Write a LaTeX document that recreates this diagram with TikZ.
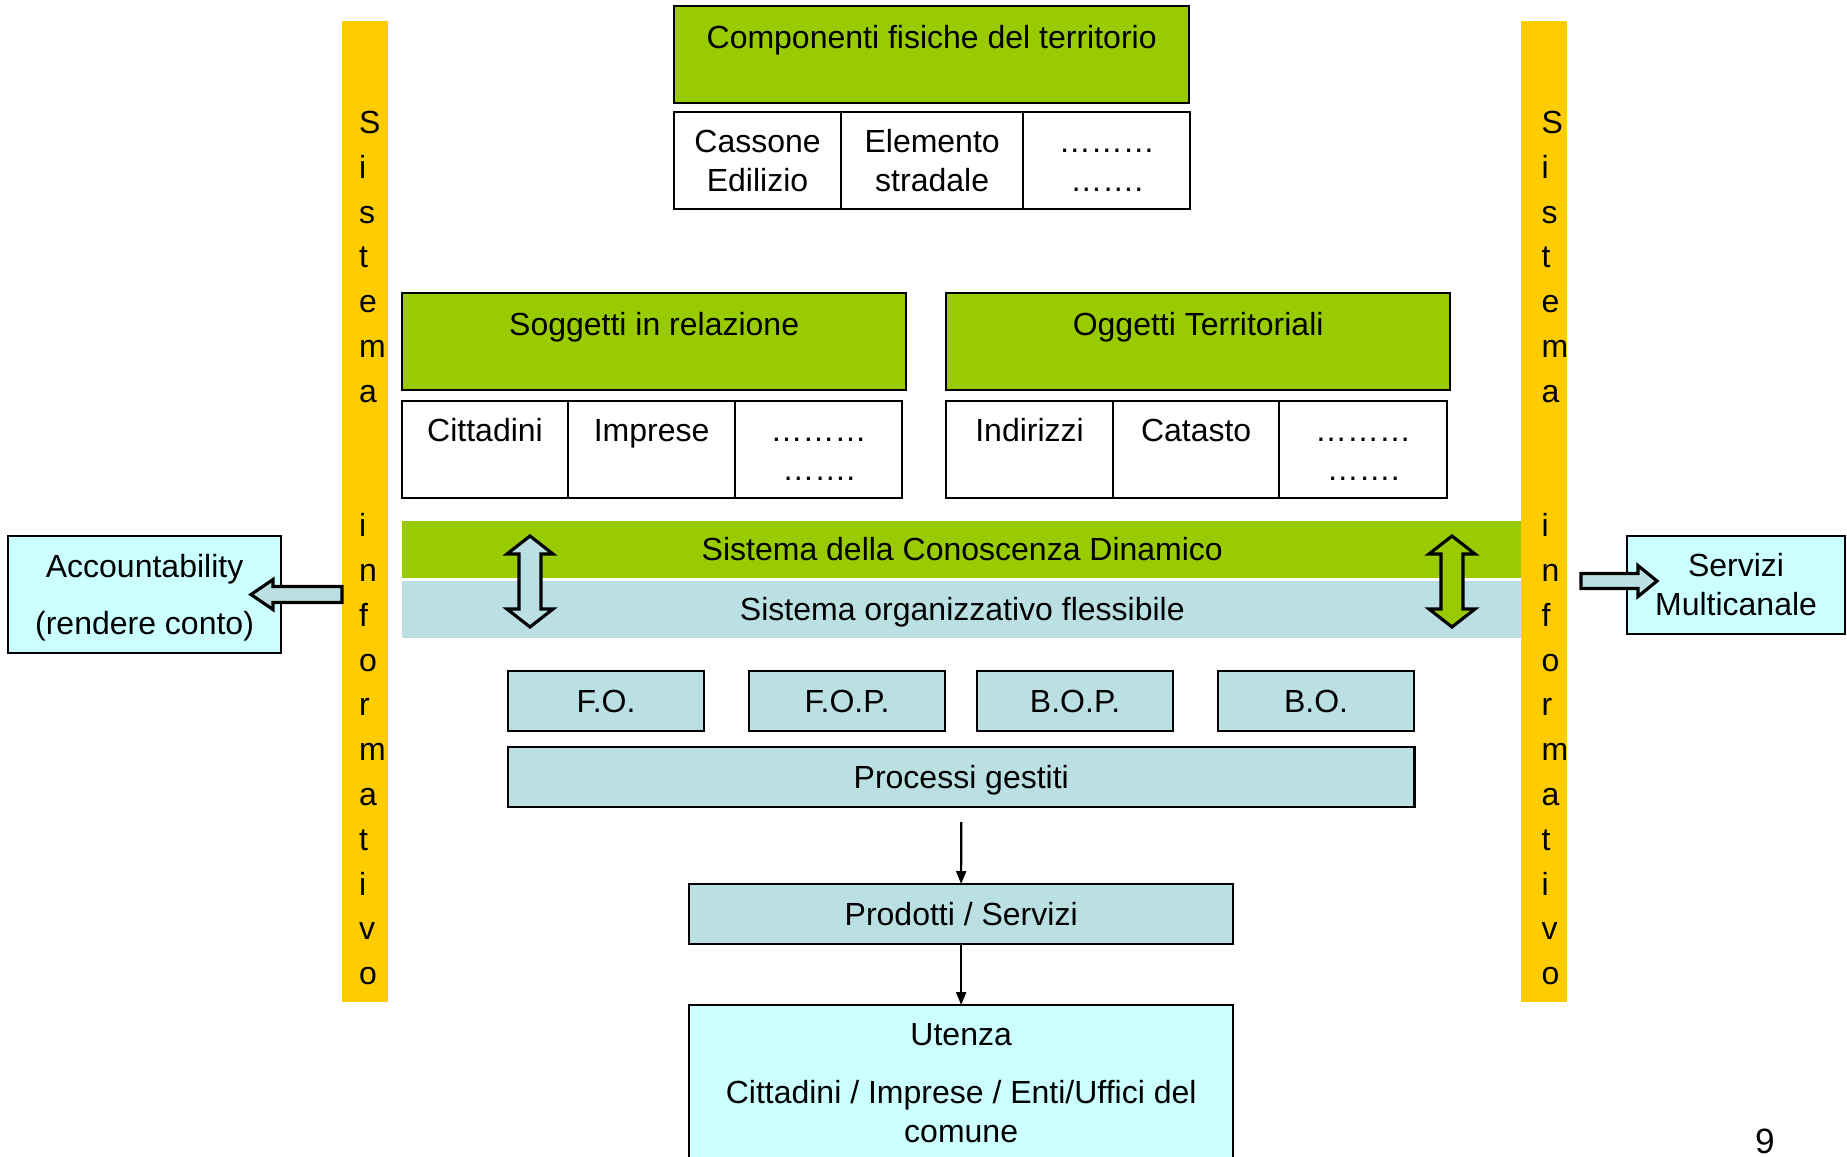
\documentclass[tikz,border=0pt]{standalone}
\usepackage{fontspec}
\setmainfont{Liberation Sans}
\usetikzlibrary{arrows.meta, positioning, calc}
\definecolor{colGreen}{RGB}{153,204,0}
\definecolor{colYellow}{RGB}{255,204,0}
\definecolor{colBlue}{RGB}{187,224,227}
\definecolor{colCyan}{RGB}{204,255,255}

\begin{document}
\begin{tikzpicture}[
  x=0.01cm, y=-0.01cm,
  font=\fontsize{9.1}{11.1}\selectfont,
  every node/.style={inner sep=0pt, outer sep=0pt},
  line/.style={text height=0.228cm, text depth=0pt},
  head/.style={rectangle, draw, line width=0.6pt, fill=colGreen, anchor=north west,
               minimum height=0.97cm, text height=0.233cm, text depth=0.353cm},
  cell/.style={rectangle, draw, line width=0.6pt, fill=white, anchor=north west,
               minimum width=1.67cm, minimum height=0.97cm, align=center},
  band/.style={rectangle, line, anchor=north west, minimum width=11.2cm, minimum height=0.57cm},
  bar/.style={rectangle, fill=colYellow, anchor=north west, minimum width=0.46cm, minimum height=9.8cm},
  proc/.style={rectangle, line, draw, line width=0.6pt, fill=colBlue, anchor=north west,
               minimum width=1.96cm, minimum height=0.6cm},
  side/.style={rectangle, draw, line width=0.6pt, fill=colCyan, anchor=north west, align=center},
  blk/.style={draw, line width=0.9pt, line join=miter},
  arr/.style={-{Triangle[length=0.13cm, width=0.1cm]}, line width=0.6pt},
]
\useasboundingbox (0,0) rectangle (1847,1157);
\clip (0,0) rectangle (1847,1157);

% physical components
\node[head, minimum width=5.15cm] (comp) at (674,6) {Componenti fisiche del territorio};
\node[cell] (cass) at (674,112) {Cassone\\Edilizio};
\node[cell, minimum width=1.82cm, right=0pt of cass] (elem) {Elemento\\stradale};
\node[cell, right=0pt of elem] (dotsA) {\vphantom{C}………\\…….};

% subjects and objects
\node[head, minimum width=5.04cm] (sogg) at (402,293) {Soggetti in relazione};
\node[head, minimum width=5.04cm] (ogg) at (946,293) {Oggetti Territoriali};
\node[cell, minimum width=1.66cm] (citt) at (402,401) {Cittadini\\\mbox{}};
\node[cell, right=0pt of citt] (impr) {Imprese\\\mbox{}};
\node[cell, right=0pt of impr] (dotsB) {\vphantom{C}………\\…….};
\node[cell] (indir) at (946,401) {Indirizzi\\\mbox{}};
\node[cell, minimum width=1.66cm, right=0pt of indir] (catas) {Catasto\\\mbox{}};
\node[cell, minimum width=1.68cm, right=0pt of catas] (dotsC) {\vphantom{C}………\\…….};

% bands
\node[band, fill=colGreen] (scd) at (402,521) {Sistema della Conoscenza Dinamico};
\node[band, fill=colBlue] (sof) at (402,581) {Sistema organizzativo flessibile};

% information system bars
\node[bar] (barL) at (342,21) {};
\node[bar] (barR) at (1521,21) {};
\foreach \ch/\k in {S/0,i/1,s/2,t/3,e/4,m/5,a/6,i/9,n/10,f/11,o/12,r/13,m/14,a/15,t/16,i/17,v/18,o/19}{
  \node[anchor=base west] (sL\k) at (359,133.5+44.8*\k) {\ch};
  \node[anchor=base west] (sR\k) at (1541.5,133.5+44.8*\k) {\ch};
}

% double arrows between the bands
\coordinate (dL) at (530,581.5);
\coordinate (dR) at (1452,581.5);
\draw[blk, fill=colBlue] (dL) ++(0,-45.5) -- ++(23,18) -- ++(-12,0) -- ++(0,55) -- ++(12,0)
  -- ++(-23,18) -- ++(-23,-18) -- ++(12,0) -- ++(0,-55) -- ++(-12,0) -- cycle;
\draw[blk, fill=colGreen] (dR) ++(0,-45.5) -- ++(23,18) -- ++(-12,0) -- ++(0,55) -- ++(12,0)
  -- ++(-23,18) -- ++(-23,-18) -- ++(12,0) -- ++(0,-55) -- ++(-12,0) -- cycle;

% front / back office
\node[proc] (fo) at (508,671) {F.O.};
\node[proc] (fop) at (749,671) {F.O.P.};
\node[proc] (bop) at (977,671) {B.O.P.};
\node[proc] (bo) at (1218,671) {B.O.};
\node[proc, minimum width=9.06cm] (pg) at (508,747) {Processi gestiti};
\node[proc, minimum width=5.44cm] (ps) at (689,884) {Prodotti / Servizi};
\node[side, minimum width=5.44cm, minimum height=1.57cm] (ute) at (689,1005)
  {Utenza\\[0.19cm]Cittadini / Imprese / Enti/Uffici del\\comune};

\coordinate (pgOut) at ($(pg.south)+(0,15)$);
\draw[arr] (pgOut) -- (ps.north);
\draw[arr] (ps.south) -- (ute.north);

% side outputs
\node[side, minimum width=2.73cm, minimum height=1.17cm] (acc) at (8,536)
  {Accountability\\[0.18cm]\raisebox{0pt}[\height][0pt]{(rendere conto)}};
\node[side, minimum width=2.18cm, minimum height=0.98cm] (sm) at (1627,536)
  {Servizi\\Multicanale};

\coordinate (accTail) at (barL.west |- acc.east);
\draw[blk, fill=colBlue] (accTail) ++(0,-8) -- ++(-69,0) -- ++(0,-7) -- ++(-22,15)
  -- ++(22,15) -- ++(0,-7) -- ++(69,0) -- cycle;
\coordinate (smTail) at ($(sm.west)+(-46,-4)$);
\draw[blk, fill=colBlue] (smTail) ++(0,-7.5) -- ++(57,0) -- ++(0,-8) -- ++(19,15.5)
  -- ++(-19,15.5) -- ++(0,-8) -- ++(-57,0) -- cycle;

\node (pgnum) at (1765,1141) {\fontsize{10}{12}\selectfont 9};
\end{tikzpicture}
\end{document}
